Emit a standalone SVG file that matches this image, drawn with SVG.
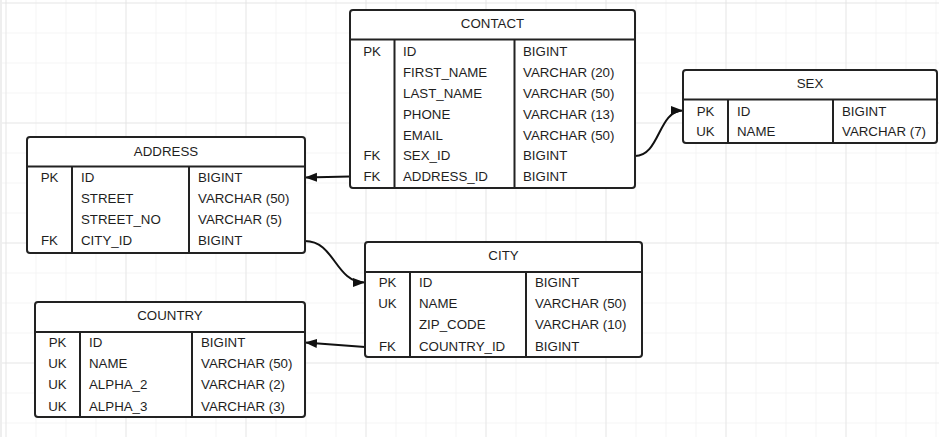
<svg xmlns="http://www.w3.org/2000/svg" width="939" height="437" viewBox="0 0 939 437">
<defs>
<pattern id="minor" x="5.5" y="2.5" width="30" height="30" patternUnits="userSpaceOnUse">
<path d="M0,0 V30 M0,0 H30" fill="none" stroke="#ebebeb" stroke-width="1"/>
</pattern>
<pattern id="major" x="5.5" y="2.5" width="120" height="120" patternUnits="userSpaceOnUse">
<path d="M0,0 V120 M0,0 H120" fill="none" stroke="#dcdcdc" stroke-width="1"/>
</pattern>
<marker id="arr" markerWidth="14" markerHeight="10" refX="12" refY="5" orient="auto" markerUnits="userSpaceOnUse">
<path d="M0,0.5 L12,5 L0,9.5 Z" fill="#111"/>
</marker>
<style>
.box{fill:#fff;stroke:#222;stroke-width:2}
.ln{stroke:#222;stroke-width:2;fill:none}
text{font-family:"Liberation Sans",Arial,sans-serif;font-size:13.3px;fill:#1e1e1e}
.c{text-anchor:middle}
.con{fill:none;stroke:#111;stroke-width:2;marker-end:url(#arr)}
</style>
</defs>
<rect width="939" height="437" fill="#fff"/>
<rect width="939" height="437" fill="url(#minor)"/>
<rect width="939" height="437" fill="url(#major)"/>
<rect x="0" y="0" width="2" height="437" fill="#eeeeee"/>

<g id="connectors">
<path class="con" d="M350,176.5 L305,177.5"/>
<path class="con" d="M635,156 C660,156 658,110.5 683,110.5"/>
<path class="con" d="M305,241 C335,241 335,282.5 365,282.5"/>
<path class="con" d="M365,347 L305,342.5"/>
</g>

<g id="contact">
<rect class="box" x="350" y="10" width="285" height="178" rx="3"/>
<path class="ln" d="M350,39.5 H635 M394.5,39.5 V188 M514.5,39.5 V188"/>
<text class="c" x="492.5" y="28">CONTACT</text>
<text class="c" x="372" y="55.5">PK</text><text x="403" y="55.5">ID</text><text x="523" y="55.5">BIGINT</text>
<text x="403" y="76.5">FIRST_NAME</text><text x="523" y="76.5">VARCHAR (20)</text>
<text x="403" y="97.5">LAST_NAME</text><text x="523" y="97.5">VARCHAR (50)</text>
<text x="403" y="118.5">PHONE</text><text x="523" y="118.5">VARCHAR (13)</text>
<text x="403" y="139.5">EMAIL</text><text x="523" y="139.5">VARCHAR (50)</text>
<text class="c" x="372" y="160">FK</text><text x="403" y="160">SEX_ID</text><text x="523" y="160">BIGINT</text>
<text class="c" x="372" y="181">FK</text><text x="403" y="181">ADDRESS_ID</text><text x="523" y="181">BIGINT</text>
</g>

<g id="sex">
<rect class="box" x="683" y="70" width="254" height="73" rx="3"/>
<path class="ln" d="M683,99.5 H937 M728,99.5 V143 M833,99.5 V143"/>
<text class="c" x="810" y="88">SEX</text>
<text class="c" x="705.5" y="115.5">PK</text><text x="737" y="115.5">ID</text><text x="842" y="115.5">BIGINT</text>
<text class="c" x="705.5" y="136">UK</text><text x="737" y="136">NAME</text><text x="842" y="136">VARCHAR (7)</text>
</g>

<g id="address">
<rect class="box" x="27" y="137" width="278" height="116" rx="3"/>
<path class="ln" d="M27,166.5 H305 M72,166.5 V253 M189,166.5 V253"/>
<text class="c" x="166" y="155.5">ADDRESS</text>
<text class="c" x="49.5" y="182">PK</text><text x="81" y="182">ID</text><text x="198" y="182">BIGINT</text>
<text x="81" y="203">STREET</text><text x="198" y="203">VARCHAR (50)</text>
<text x="81" y="224">STREET_NO</text><text x="198" y="224">VARCHAR (5)</text>
<text class="c" x="49.5" y="245">FK</text><text x="81" y="245">CITY_ID</text><text x="198" y="245">BIGINT</text>
</g>

<g id="city">
<rect class="box" x="365" y="242" width="277" height="115" rx="3"/>
<path class="ln" d="M365,272 H642 M410,272 V357 M526,272 V357"/>
<text class="c" x="503.5" y="260">CITY</text>
<text class="c" x="387.5" y="287">PK</text><text x="419" y="287">ID</text><text x="535" y="287">BIGINT</text>
<text class="c" x="387.5" y="308">UK</text><text x="419" y="308">NAME</text><text x="535" y="308">VARCHAR (50)</text>
<text x="419" y="329">ZIP_CODE</text><text x="535" y="329">VARCHAR (10)</text>
<text class="c" x="387.5" y="350.5">FK</text><text x="419" y="350.5">COUNTRY_ID</text><text x="535" y="350.5">BIGINT</text>
</g>

<g id="country">
<rect class="box" x="35" y="302" width="270" height="115" rx="3"/>
<path class="ln" d="M35,332 H305 M80,332 V417 M192,332 V417"/>
<text class="c" x="170" y="320">COUNTRY</text>
<text class="c" x="57.5" y="347">PK</text><text x="89" y="347">ID</text><text x="201" y="347">BIGINT</text>
<text class="c" x="57.5" y="368">UK</text><text x="89" y="368">NAME</text><text x="201" y="368">VARCHAR (50)</text>
<text class="c" x="57.5" y="389">UK</text><text x="89" y="389">ALPHA_2</text><text x="201" y="389">VARCHAR (2)</text>
<text class="c" x="57.5" y="410.5">UK</text><text x="89" y="410.5">ALPHA_3</text><text x="201" y="410.5">VARCHAR (3)</text>
</g>
</svg>
